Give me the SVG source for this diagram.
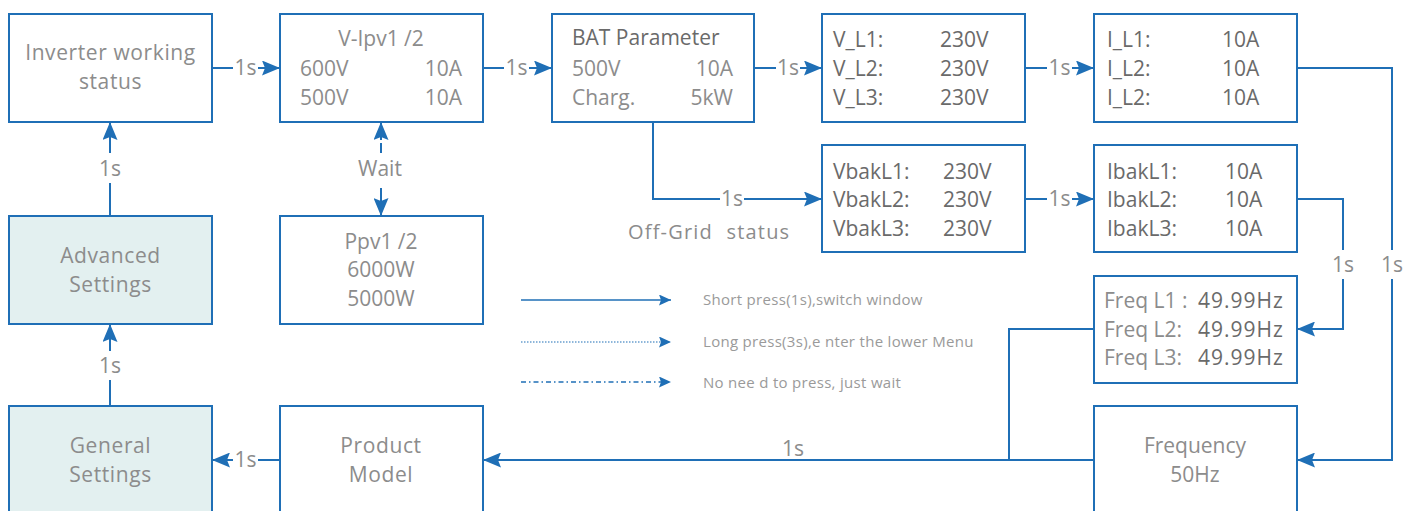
<svg xmlns="http://www.w3.org/2000/svg" width="1403" height="511" viewBox="0 0 1403 511">
<style>
.box{fill:#ffffff;stroke:#1f6fb6;stroke-width:2}
.set{fill:#e3f0f0;stroke:#1f6fb6;stroke-width:2}
.ln{fill:none;stroke:#1f6fb6;stroke-width:2}
.t{font-family:"Open Sans","Liberation Sans",sans-serif;font-size:21px;fill:#8c8c8c}
.d{fill:#6a6a6a}
.c{text-anchor:middle}
.e{text-anchor:end}
.lg{font-family:"Open Sans","Liberation Sans",sans-serif;font-size:15px;letter-spacing:0.3px;fill:#9a9a9a}
</style>
<defs>
<marker id="ah" markerUnits="userSpaceOnUse" markerWidth="18" markerHeight="15" viewBox="0 0 18 15" refX="18" refY="7.5" orient="auto">
<path d="M0,0 L18,7.5 L0,15 L3,7.5 z" fill="#1f6fb6"/>
</marker>
<marker id="as" markerUnits="userSpaceOnUse" markerWidth="12" markerHeight="11" viewBox="0 0 12 11" refX="12" refY="5.5" orient="auto">
<path d="M0,0 L12,5.5 L0,11 L2,5.5 z" fill="#1f6fb6"/>
</marker>
</defs>

<g id="connectors">
<!-- Inverter -> V-Ipv -->
<path class="ln" d="M212,68 H233"/><text class="t c" x="245.5" y="75">1s</text><path class="ln" d="M258,68 H280" marker-end="url(#ah)"/>
<!-- V-Ipv -> BAT -->
<path class="ln" d="M483,68 H504"/><text class="t c" x="516.5" y="75">1s</text><path class="ln" d="M529,68 H552" marker-end="url(#ah)"/>
<!-- BAT -> V_L -->
<path class="ln" d="M754,68 H776"/><text class="t c" x="788" y="75">1s</text><path class="ln" d="M800,68 H822" marker-end="url(#ah)"/>
<!-- V_L -> I_L -->
<path class="ln" d="M1025,68 H1047"/><text class="t c" x="1059.5" y="75">1s</text><path class="ln" d="M1072,68 H1094" marker-end="url(#ah)"/>
<!-- BAT -> Vbak -->
<path class="ln" d="M653,122 V199 H720"/><text class="t c" x="732" y="206">1s</text><path class="ln" d="M744,199 H822" marker-end="url(#ah)"/>
<text class="t" x="628" y="239" style="font-size:20px;letter-spacing:1.2px;word-spacing:7px">Off-Grid status</text>
<!-- Vbak -> Ibak -->
<path class="ln" d="M1025,199 H1047"/><text class="t c" x="1059.5" y="206">1s</text><path class="ln" d="M1072,199 H1094" marker-end="url(#ah)"/>
<!-- I_L -> Frequency -->
<path class="ln" d="M1297,68 H1392 V250"/><text class="t c" x="1392" y="272">1s</text><path class="ln" d="M1392,279 V460 H1297" marker-end="url(#ah)"/>
<!-- Ibak -> Freq L -->
<path class="ln" d="M1297,199 H1343 V250"/><text class="t c" x="1343" y="272">1s</text><path class="ln" d="M1343,279 V329 H1297" marker-end="url(#ah)"/>
<!-- Freq L / Frequency -> Product Model -->
<path class="ln" d="M1094,329 H1009 V460"/>
<path class="ln" d="M1094,460 H483" marker-end="url(#ah)"/>
<text class="t c" x="793" y="456">1s</text>
<!-- Product -> General -->
<path class="ln" d="M280,460 H258"/><text class="t c" x="245.5" y="467">1s</text><path class="ln" d="M233,460 H212" marker-end="url(#ah)"/>
<!-- General -> Advanced -->
<path class="ln" d="M110,406 V380"/><text class="t c" x="110" y="373">1s</text><path class="ln" d="M110,351 V324" marker-end="url(#ah)"/>
<!-- Advanced -> Inverter -->
<path class="ln" d="M110,216 V183"/><text class="t c" x="110" y="176">1s</text><path class="ln" d="M110,153 V122" marker-end="url(#ah)"/>
<!-- Wait (dashed, both ways) -->
<path class="ln" d="M381,140 V122" marker-end="url(#ah)"/>
<path class="ln" d="M381,143 V153"/>
<text class="t c" x="380" y="176">Wait</text>
<path class="ln" d="M381,188 V198"/>
<path class="ln" d="M381,198 V216" marker-end="url(#ah)"/>
</g>

<g id="legend">
<path d="M521,300 H671" fill="none" stroke="#1f6fb6" stroke-width="1.5" marker-end="url(#as)"/>
<text class="lg" x="703" y="305">Short press(1s),switch window</text>
<path d="M521,342 H671" fill="none" stroke="#1f6fb6" stroke-width="1.2" stroke-dasharray="1.5 1.5" marker-end="url(#as)"/>
<text class="lg" x="703" y="347">Long press(3s),e nter the lower Menu</text>
<path d="M521,382 H671" fill="none" stroke="#1f6fb6" stroke-width="1.3" stroke-dasharray="5 3 1.5 3" marker-end="url(#as)"/>
<text class="lg" x="703" y="388">No nee d to press, just wait</text>
</g>

<g id="inverter-status">
<rect class="box" x="9" y="14" width="203" height="108"/>
<text class="t c" x="110.5" y="60" style="letter-spacing:0.6px">Inverter working</text>
<text class="t c" x="110.5" y="89" style="letter-spacing:0.6px">status</text>
</g>

<g id="v-ipv">
<rect class="box" x="280" y="14" width="203" height="108"/>
<text class="t c" x="381" y="46">V-Ipv1 /2</text>
<text class="t" x="300" y="76">600V</text><text class="t e" x="462" y="76">10A</text>
<text class="t" x="300" y="105">500V</text><text class="t e" x="462" y="105">10A</text>
</g>

<g id="bat-parameter">
<rect class="box" x="552" y="14" width="202" height="108"/>
<text class="t d" x="572" y="45">BAT Parameter</text>
<text class="t" x="572" y="76">500V</text><text class="t e" x="733" y="76">10A</text>
<text class="t" x="572" y="105">Charg.</text><text class="t e" x="733" y="105">5kW</text>
</g>

<g id="v-l">
<rect class="box" x="822" y="14" width="203" height="108"/>
<text class="t d" x="833" y="47">V_L1:</text><text class="t d" x="940" y="47">230V</text>
<text class="t d" x="833" y="76">V_L2:</text><text class="t d" x="940" y="76">230V</text>
<text class="t d" x="833" y="105">V_L3:</text><text class="t d" x="940" y="105">230V</text>
</g>

<g id="i-l">
<rect class="box" x="1094" y="14" width="203" height="108"/>
<text class="t d" x="1107" y="47">I_L1:</text><text class="t d" x="1222" y="47">10A</text>
<text class="t d" x="1107" y="76">I_L2:</text><text class="t d" x="1222" y="76">10A</text>
<text class="t d" x="1107" y="105">I_L2:</text><text class="t d" x="1222" y="105">10A</text>
</g>

<g id="vbak">
<rect class="box" x="822" y="145" width="203" height="107"/>
<text class="t d" x="833" y="179">VbakL1:</text><text class="t d" x="943" y="179">230V</text>
<text class="t d" x="833" y="207">VbakL2:</text><text class="t d" x="943" y="207">230V</text>
<text class="t d" x="833" y="236">VbakL3:</text><text class="t d" x="943" y="236">230V</text>
</g>

<g id="ibak">
<rect class="box" x="1094" y="145" width="203" height="107"/>
<text class="t d" x="1107" y="179">IbakL1:</text><text class="t d" x="1225" y="179">10A</text>
<text class="t d" x="1107" y="207">IbakL2:</text><text class="t d" x="1225" y="207">10A</text>
<text class="t d" x="1107" y="236">IbakL3:</text><text class="t d" x="1225" y="236">10A</text>
</g>

<g id="advanced-settings">
<rect class="set" x="9" y="216" width="203" height="108"/>
<text class="t c" x="110.5" y="263" style="letter-spacing:0.6px">Advanced</text>
<text class="t c" x="110.5" y="292" style="letter-spacing:0.6px">Settings</text>
</g>

<g id="ppv">
<rect class="box" x="280" y="216" width="203" height="108"/>
<text class="t c" x="381" y="249">Ppv1 /2</text>
<text class="t c" x="381" y="277">6000W</text>
<text class="t c" x="381" y="306">5000W</text>
</g>

<g id="freq-l">
<rect class="box" x="1094" y="276" width="203" height="107"/>
<text class="t" x="1104" y="308">Freq L1 :</text><text class="t d" x="1198" y="308" style="letter-spacing:1px">49.99Hz</text>
<text class="t" x="1104" y="337">Freq L2:</text><text class="t d" x="1198" y="337" style="letter-spacing:1px">49.99Hz</text>
<text class="t" x="1104" y="365">Freq L3:</text><text class="t d" x="1198" y="365" style="letter-spacing:1px">49.99Hz</text>
</g>

<g id="general-settings">
<rect class="set" x="9" y="406" width="203" height="120"/>
<text class="t c" x="110.5" y="453" style="letter-spacing:0.6px">General</text>
<text class="t c" x="110.5" y="482" style="letter-spacing:0.6px">Settings</text>
</g>

<g id="product-model">
<rect class="box" x="280" y="406" width="203" height="120"/>
<text class="t c" x="381" y="453" style="letter-spacing:0.6px">Product</text>
<text class="t c" x="381" y="482" style="letter-spacing:0.6px">Model</text>
</g>

<g id="frequency">
<rect class="box" x="1094" y="406" width="203" height="120"/>
<text class="t c" x="1195" y="453">Frequency</text>
<text class="t c" x="1195" y="482">50Hz</text>
</g>
</svg>
